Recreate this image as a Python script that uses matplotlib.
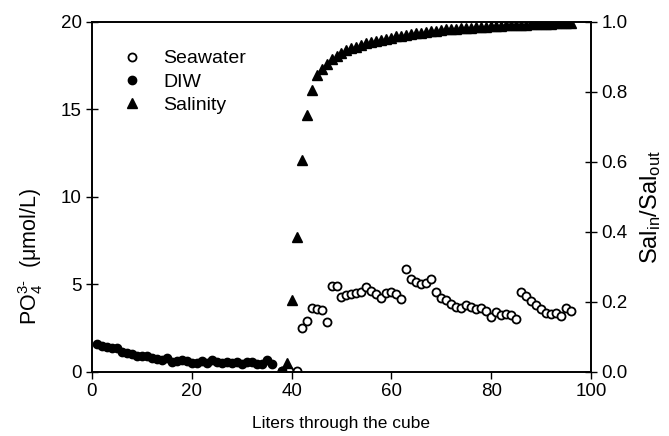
import numpy as np
import matplotlib
matplotlib.use('Agg')
import matplotlib.pyplot as plt

plt.rcParams['font.family'] = ['Liberation Sans', 'DejaVu Sans']
plt.rcParams['mathtext.fontset'] = 'custom'
plt.rcParams['mathtext.rm'] = 'Liberation Sans'
plt.rcParams['mathtext.it'] = 'Liberation Sans:italic'

# DIW (filled circles)
diw_x = list(range(1, 37)) + [38]
diw_y = [1.58, 1.47, 1.39, 1.33, 1.33, 1.14, 1.05, 0.99, 0.91, 0.88,
         0.91, 0.76, 0.71, 0.67, 0.78, 0.57, 0.61, 0.67, 0.63, 0.48,
         0.48, 0.63, 0.52, 0.67, 0.57, 0.48, 0.57, 0.48, 0.54, 0.42,
         0.54, 0.57, 0.42, 0.44, 0.67, 0.44, 0.05]

# Seawater (open circles)
sw_x = [38, 39.5, 41] + list(range(42, 97))
sw_y = [0.02, 0.05, 0.02,
        2.48, 2.92, 3.62, 3.60, 3.50, 2.86, 4.88, 4.90, 4.29, 4.38,
        4.42, 4.50, 4.57, 4.84, 4.62, 4.43, 4.24, 4.48, 4.54, 4.43,
        4.15, 5.85, 5.28, 5.14, 5.01, 5.05, 5.28, 4.57, 4.19, 4.10,
        3.87, 3.71, 3.62, 3.81, 3.71, 3.58, 3.62, 3.49, 3.14, 3.43,
        3.24, 3.28, 3.24, 3.01, 4.57, 4.33, 4.06, 3.81, 3.58, 3.34,
        3.28, 3.37, 3.18, 3.62, 3.47]

# Salinity ratio (triangles, right axis)
sal_x = list(range(38, 97))
sal_y = [0.0, 0.025, 0.205, 0.386, 0.605, 0.733, 0.805, 0.848, 0.865, 0.880,
         0.893, 0.903, 0.912, 0.918, 0.924, 0.929, 0.934, 0.938, 0.942, 0.946,
         0.949, 0.952, 0.955, 0.958, 0.960, 0.963, 0.965, 0.967, 0.969, 0.971,
         0.973, 0.975, 0.976, 0.978, 0.979, 0.980, 0.981, 0.982, 0.983, 0.984,
         0.985, 0.986, 0.987, 0.988, 0.989, 0.990, 0.990, 0.991, 0.992, 0.992,
         0.993, 0.994, 0.994, 0.995, 0.995, 0.996, 0.996, 0.997, 0.997]

fig = plt.figure(figsize=(6.69, 4.36), dpi=100)
ax = fig.add_axes([0.1375, 0.1475, 0.7459, 0.8025])
ax2 = ax.twinx()

l1, = ax.plot(sw_x, sw_y, 'o', mfc='white', mec='black', mew=1.3, ms=5.8, label='Seawater')
l2, = ax.plot(diw_x, diw_y, 'o', color='black', ms=6, label='DIW')
l3, = ax2.plot(sal_x, sal_y, '^', color='black', ms=6.8, label='Salinity')

ax.set_xlim(0, 100)
ax.set_ylim(0, 20)
ax2.set_ylim(0, 1.0)
ax.set_xticks([0, 20, 40, 60, 80, 100])
ax.set_yticks([0, 5, 10, 15, 20])
ax2.set_yticks([0, 0.2, 0.4, 0.6, 0.8, 1.0])
ax2.set_yticklabels(['0.0', '0.2', '0.4', '0.6', '0.8', '1.0'])

ax.tick_params(axis='x', direction='out', length=5, width=1, labelsize=13.5)
ax.tick_params(axis='y', direction='inout', length=8, width=1, labelsize=13.5)
ax2.tick_params(axis='y', direction='inout', length=8, width=1, labelsize=13.5)
for a in (ax, ax2):
    for s in a.spines.values():
        s.set_linewidth(1.2)

ax.set_xlabel('Liters through the cube', fontsize=12.5, labelpad=11)
ax.set_ylabel(r'PO$_4^{\mathrm{3}\text{-}}$  (μmol/L)', fontsize=15.5, labelpad=6)
ax.yaxis.set_label_coords(-0.095, 0.33)
ax2.set_ylabel(r'Sal$_{\mathrm{in}}$/Sal$_{\mathrm{out}}$', fontsize=17, labelpad=6)
ax2.yaxis.set_label_coords(1.095, 0.47)

ax.legend(handles=[l1, l2, l3], loc='upper left', bbox_to_anchor=(0.022, 0.97),
          frameon=False, fontsize=14, handletextpad=1.0, labelspacing=0.3,
          handlelength=1.2)

fig.savefig('out.png', dpi=100)
